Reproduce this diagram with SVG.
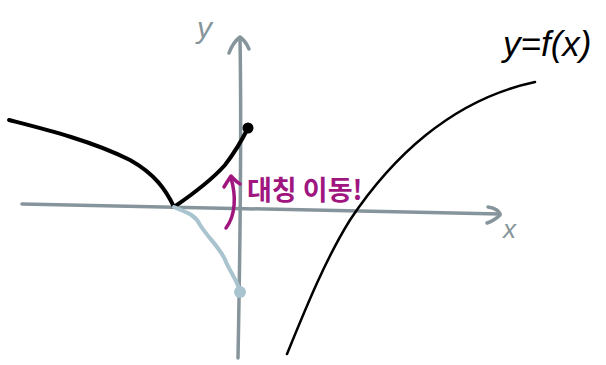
<svg xmlns="http://www.w3.org/2000/svg" width="606" height="365" viewBox="0 0 606 365">
<style>
.ax{fill:none;stroke:#86959b;stroke-width:3.5;stroke-linecap:round;stroke-linejoin:round}
.blk{fill:none;stroke:#000;stroke-width:4;stroke-linecap:round;stroke-linejoin:round}
.fx{fill:none;stroke:#000;stroke-width:2.5;stroke-linecap:round}
.ref{fill:none;stroke:#a9c3cf;stroke-width:4;stroke-linecap:round;stroke-linejoin:round}
.pur{fill:none;stroke:#a0167f;stroke-width:3.5;stroke-linecap:round;stroke-linejoin:round}
.lbl{font-family:"Liberation Sans",sans-serif;font-style:italic}
</style>
<rect width="606" height="365" fill="#fff"/>
<g id="axes">
<path class="ax" d="M22,204 C150,206 300,210 500,214"/>
<path class="ax" d="M488,207 C496,208 500,212 500,215 C497,218 493,221 487,223"/>
<path class="ax" d="M238,358 C240,250 242,150 240,38"/>
<path class="ax" d="M229,53 C232,45 236,40 240,37 C244,40 247,44 249,49"/>
<text class="lbl" x="197" y="38" font-size="30" fill="#86959b">y</text>
<text class="lbl" x="503" y="238" font-size="26" fill="#86959b">x</text>
</g>
<g id="curve-f">
<path class="fx" d="M287,354 C305,310 325,260 350,220 C390,160 450,100 535,82"/>
<text x="503" y="56" font-size="35" font-family="'Liberation Sans',sans-serif" font-style="italic" fill="#000">y=f(x)</text>
</g>
<g id="curve-black">
<path class="blk" d="M9,120 C40,128 90,140 130,160 C155,174 166,190 174,207 C190,196 210,182 225,165 C235,152 242,140 248,128"/>
<circle cx="248" cy="128" r="5.5" fill="#000"/>
</g>
<g id="curve-reflected">
<path class="ref" d="M174,207 C185,212 195,214 200,225 C210,240 222,250 226,262 C232,275 238,282 240,292"/>
<circle cx="240" cy="292" r="6" fill="#a9c3cf"/>
</g>
<g id="label-symmetry">
<path class="pur" d="M226,228 C236,215 236,195 231,178"/>
<path class="pur" d="M224,187 C227,182 229,179 231,176 C234,179 236,182 240,184"/>
<text x="247" y="200" font-size="27" font-weight="bold" font-family="'Noto Sans CJK KR',sans-serif" fill="#a0167f">대칭 이동!</text>
</g>
</svg>
